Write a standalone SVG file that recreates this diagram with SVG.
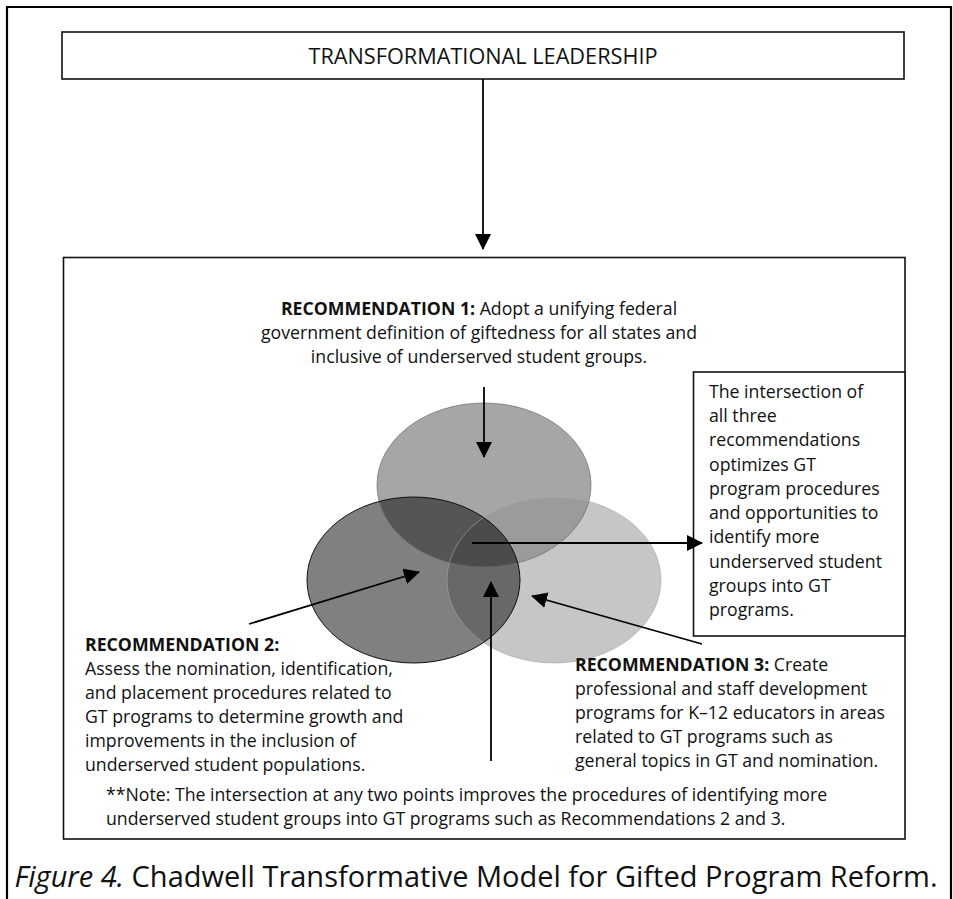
<svg xmlns="http://www.w3.org/2000/svg" width="953" height="899" viewBox="0 0 953 899">
<style>
  .t{font-family:"Open Sans","Liberation Sans",sans-serif;font-size:17.7px;fill:#111}
  .b{font-weight:700}
  .title{font-family:"Open Sans","Liberation Sans",sans-serif;font-size:22px;fill:#111}
  .cap{font-family:"Open Sans","Liberation Sans",sans-serif;font-size:29px;fill:#111}
  .box{fill:#fff;stroke:#111;stroke-width:1.6}
  .con{stroke:#000;stroke-width:1.8;fill:none;marker-end:url(#ah)}
</style>
<defs>
  <marker id="ah" viewBox="0 0 16 16" markerWidth="16" markerHeight="16" refX="15" refY="8" orient="auto" markerUnits="userSpaceOnUse">
    <path d="M0,0 L16,8 L0,16 z" fill="#000"/>
  </marker>
  <clipPath id="cT"><ellipse cx="484" cy="485" rx="107" ry="82"/></clipPath>
  <clipPath id="cR"><ellipse cx="554" cy="580" rx="107" ry="83"/></clipPath>
</defs>
<rect width="953" height="899" fill="#fff"/>
<path d="M7,899 V7 H951 V899" fill="none" stroke="#000" stroke-width="2.2"/>

<g id="title">
  <rect class="box" x="62" y="32" width="842" height="47"/>
  <text class="title" x="483" y="64" text-anchor="middle" textLength="349" lengthAdjust="spacingAndGlyphs">TRANSFORMATIONAL LEADERSHIP</text>
</g>

<g id="model">
  <rect class="box" x="63.5" y="257.5" width="841.5" height="581.5"/>
</g>

<g id="rec1">
  <text class="t" x="479" y="315" text-anchor="middle"><tspan class="b">RECOMMENDATION 1:</tspan> Adopt a unifying federal</text>
  <text class="t" x="479" y="339" text-anchor="middle">government definition of giftedness for all states and</text>
  <text class="t" x="479" y="363" text-anchor="middle">inclusive of underserved student groups.</text>
</g>

<g id="venn">
  <ellipse cx="484" cy="485" rx="107" ry="82" fill="#a6a6a6"/>
  <ellipse cx="554" cy="580" rx="107" ry="83" fill="#c6c6c8"/>
  <ellipse cx="413.5" cy="580" rx="106.5" ry="83" fill="#808080"/>
  <g clip-path="url(#cT)">
    <ellipse cx="554" cy="580" rx="107" ry="83" fill="#9b9b9c"/>
    <ellipse cx="413.5" cy="580" rx="106.5" ry="83" fill="#555555"/>
  </g>
  <g clip-path="url(#cR)">
    <ellipse cx="413.5" cy="580" rx="106.5" ry="83" fill="#68686a"/>
    <g clip-path="url(#cT)">
      <ellipse cx="413.5" cy="580" rx="106.5" ry="83" fill="#4b4b4d"/>
    </g>
  </g>
  <ellipse cx="484" cy="485" rx="107" ry="82" fill="none" stroke="#6a6a6a" stroke-width="0.7"/>
  <ellipse cx="554" cy="580" rx="107" ry="83" fill="none" stroke="#a4a4a4" stroke-width="0.6"/>
  <ellipse cx="413.5" cy="580" rx="106.5" ry="83" fill="none" stroke="#111" stroke-width="1"/>
</g>

<g id="intersection">
  <rect class="box" x="693.5" y="372" width="211.5" height="264"/>
  <text class="t" x="709" y="398">The intersection of</text>
  <text class="t" x="709" y="422">all three</text>
  <text class="t" x="709" y="446">recommendations</text>
  <text class="t" x="709" y="471">optimizes GT</text>
  <text class="t" x="709" y="495">program procedures</text>
  <text class="t" x="709" y="519">and opportunities to</text>
  <text class="t" x="709" y="543">identify more</text>
  <text class="t" x="709" y="568">underserved student</text>
  <text class="t" x="709" y="592">groups into GT</text>
  <text class="t" x="709" y="616">programs.</text>
</g>

<g id="rec2">
  <text class="t b" x="85" y="651">RECOMMENDATION 2:</text>
  <text class="t" x="85" y="675">Assess the nomination, identification,</text>
  <text class="t" x="85" y="699">and placement procedures related to</text>
  <text class="t" x="85" y="723">GT programs to determine growth and</text>
  <text class="t" x="85" y="747">improvements in the inclusion of</text>
  <text class="t" x="85" y="771">underserved student populations.</text>
</g>

<g id="rec3">
  <text class="t" x="575" y="671"><tspan class="b">RECOMMENDATION 3:</tspan> Create</text>
  <text class="t" x="575" y="695">professional and staff development</text>
  <text class="t" x="575" y="719">programs for K–12 educators in areas</text>
  <text class="t" x="575" y="743">related to GT programs such as</text>
  <text class="t" x="575" y="767">general topics in GT and nomination.</text>
</g>

<g id="note">
  <text class="t" x="106" y="801">**Note: The intersection at any two points improves the procedures of identifying more</text>
  <text class="t" x="106" y="825">underserved student groups into GT programs such as Recommendations 2 and 3.</text>
</g>

<g id="connectors">
  <path class="con" d="M483,79 V249"/>
  <path class="con" d="M484,387 V457"/>
  <path class="con" d="M472,543 H702"/>
  <path class="con" d="M249,624 L419,572"/>
  <path class="con" d="M702,644 L532,596"/>
  <path class="con" d="M491,761 V582"/>
</g>

<g id="caption">
  <text class="cap" x="476" y="887" text-anchor="middle"><tspan font-style="italic">Figure 4.</tspan> Chadwell Transformative Model for Gifted Program Reform.</text>
</g>
</svg>
